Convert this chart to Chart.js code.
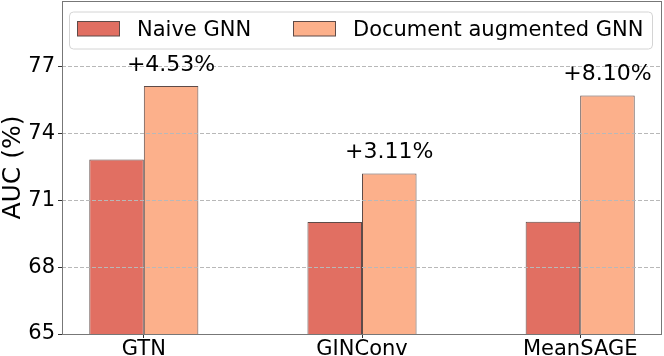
<!DOCTYPE html>
<html>
<head>
<meta charset="utf-8">
<script src="https://cdn.jsdelivr.net/npm/chart.js@4"></script>
<style>
  html, body { margin: 0; padding: 0; background: #fff; }
  #wrap { width: 664px; height: 356px; }
</style>
</head>
<body>
<div id="wrap"><canvas id="aucChart" width="664" height="356"></canvas></div>
<script>
// Models on the x axis
var models = ["GTN", "GINConv", "MeanSAGE"];

// AUC (%) for each model
var naiveAuc = [72.83, 70.03, 70.04];
var docAuc = [76.13, 72.21, 75.71];

// Relative gain written above the augmented bars
var gains = ["+4.53%", "+3.11%", "+8.10%"];

// Y axis tick labels
var yTicks = [65, 68, 71, 74, 77];

var seriesNames = ["Naive GNN", "Document augmented GNN"];
var seriesColors = ["#e16f62", "#fcb08b"];
var edgeColor = "#5e4b48";
var frameColor = "#777777";
var font = "'DejaVu Sans', sans-serif";

function toPoints(values) {
  return values.map(function (v, i) {
    return { x: i, y: v };
  });
}

// all four spines (drawn by hand so the grid dash does not touch them)
var framePlugin = {
  id: "frame",
  afterDraw: function (chart) {
    var a = chart.chartArea;
    var ctx = chart.ctx;
    ctx.save();
    ctx.strokeStyle = frameColor;
    ctx.lineWidth = 1;
    ctx.setLineDash([]);
    ctx.strokeRect(a.left + 0.5, a.top + 0.5, a.right - a.left - 1, a.bottom - a.top);
    ctx.restore();
  }
};

// gain labels over the augmented bars
var gainPlugin = {
  id: "gains",
  afterDraw: function (chart) {
    var ctx = chart.ctx;
    var bars = chart.getDatasetMeta(1).data;
    ctx.save();
    ctx.fillStyle = "#000";
    ctx.font = "22px " + font;
    ctx.textAlign = "center";
    ctx.textBaseline = "alphabetic";
    bars.forEach(function (bar, i) {
      ctx.fillText(gains[i], bar.x, bar.y - 15.5);
    });
    ctx.restore();
  }
};

// legend box inside the axes, like matplotlib
var legendPlugin = {
  id: "boxLegend",
  afterDraw: function (chart) {
    var ctx = chart.ctx;
    var box = { x: 69, y: 11.5, w: 583, h: 37 };
    var patchX = [77, 293];
    ctx.save();
    ctx.setLineDash([]);
    ctx.fillStyle = "rgba(255,255,255,0.85)";
    ctx.strokeStyle = "#d4d4d4";
    ctx.lineWidth = 1;
    ctx.beginPath();
    ctx.roundRect(box.x + 0.5, box.y + 0.5, box.w, box.h, 4);
    ctx.fill();
    ctx.stroke();
    ctx.font = "21px " + font;
    ctx.textBaseline = "alphabetic";
    chart.data.datasets.forEach(function (ds, i) {
      ctx.fillStyle = ds.backgroundColor;
      ctx.fillRect(patchX[i], 21.5, 43, 14.5);
      ctx.strokeStyle = edgeColor;
      ctx.strokeRect(patchX[i] + 0.5, 21.5, 42, 14.5);
      ctx.fillStyle = "#000";
      ctx.fillText(ds.label, patchX[i] + 60, 36);
    });
    ctx.restore();
  }
};

new Chart("aucChart", {
  type: "bar",
  data: {
    datasets: [
      {
        label: seriesNames[0],
        data: toPoints(naiveAuc),
        backgroundColor: seriesColors[0],
        borderColor: edgeColor,
        borderWidth: 1,
        categoryPercentage: 0.5,
        barPercentage: 1,
      },
      {
        label: seriesNames[1],
        data: toPoints(docAuc),
        backgroundColor: seriesColors[1],
        borderColor: edgeColor,
        borderWidth: 1,
        categoryPercentage: 0.5,
        barPercentage: 1,
      },
    ],
  },
  options: {
    responsive: false,
    animation: false,
    layout: { padding: { top: 1, right: 2, left: 0, bottom: 0 } },
    plugins: {
      legend: { display: false },
      tooltip: { enabled: false },
    },
    scales: {
      x: {
        type: "linear",
        offset: false,
        min: -0.375,
        max: 2.375,
        afterBuildTicks: function (scale) {
          scale.ticks = models.map(function (m, i) {
            return { value: i };
          });
        },
        afterFit: function (scale) {
          scale.height = 22;
          scale.paddingLeft = 0;
          scale.paddingRight = 0;
        },
        ticks: {
          autoSkip: false,
          maxRotation: 0,
          padding: -1,
          color: "#000",
          font: { family: font, size: 21 },
          callback: function (v) {
            return models[v];
          },
        },
        grid: {
          offset: false,
          drawOnChartArea: false,
          drawTicks: true,
          tickLength: 4,
          tickColor: "#333",
        },
        border: { display: false },
      },
      y: {
        min: 65,
        max: 79.95,
        afterBuildTicks: function (scale) {
          scale.ticks = yTicks.map(function (v) {
            return { value: v };
          });
        },
        afterFit: function (scale) {
          scale.width = 62;
          scale.paddingTop = 0;
          scale.paddingBottom = 0;
        },
        ticks: {
          padding: 3,
          color: "#000",
          font: { family: font, size: 21 },
        },
        grid: {
          z: 1,
          color: function (c) {
            return c.tick && c.tick.value === 65 ? "rgba(0,0,0,0)" : "#b8b8b8";
          },
          lineWidth: 1,
          drawTicks: true,
          tickLength: 4,
          tickColor: "#333",
          tickBorderDash: [],
        },
        border: { display: false, dash: [4, 2] },
        title: {
          display: true,
          text: "AUC (%)",
          color: "#000",
          font: { family: font, size: 25, lineHeight: 1.1 },
          padding: 0,
        },
      },
    },
  },
  plugins: [framePlugin, gainPlugin, legendPlugin],
});
</script>
</body>
</html>
